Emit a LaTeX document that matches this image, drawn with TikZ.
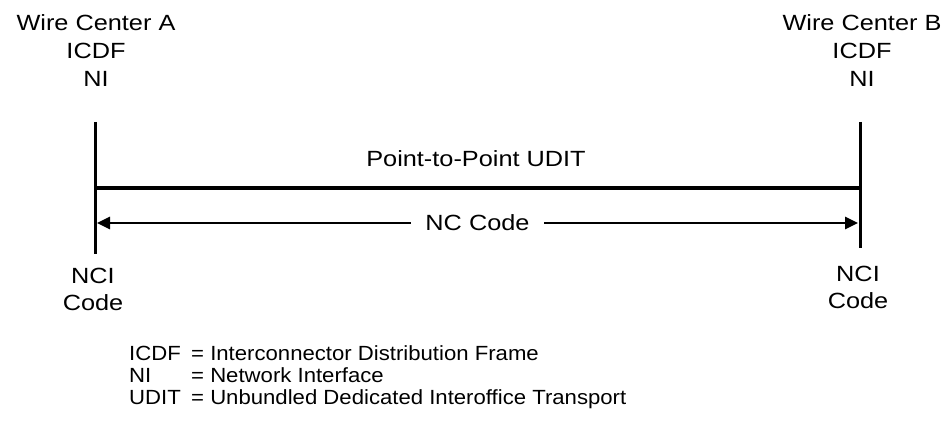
\documentclass[tikz,border=0pt]{standalone}
\usepackage{fontspec}
\setmainfont{Liberation Sans}
\newfontfamily\labelfont[FakeStretch=1.15]{Liberation Sans}
\newfontfamily\legendfont[FakeStretch=1.08]{Liberation Sans}
\usetikzlibrary{arrows.meta}

\begin{document}
\begin{tikzpicture}[x=1pt, y=-1pt]
    % Styles
    \tikzstyle{site} = [align=center, inner sep=0pt, font=\labelfont\fontsize{22}{28}\selectfont]
    \tikzstyle{endline} = [line width=3pt]
    \tikzstyle{udit} = [line width=4pt]
    \tikzstyle{span} = [{Triangle[length=13pt, width=12pt]}-{Triangle[length=13pt, width=12pt]}, line width=2.6pt]
    \tikzstyle{legend} = [anchor=base west, inner sep=0pt, font=\legendfont\fontsize{20.5}{22}\selectfont]

    \useasboundingbox (0,0) rectangle (948,427);

    % Wire centers
    \node[site] (WCA) at (96, 50.5) {Wire Center A\\ICDF\\NI};
    \node[site] (WCB) at (862, 50.5) {Wire Center B\\ICDF\\NI};
    \node[site, font=\labelfont\fontsize{22}{27}\selectfont] (NCIA) at (93, 289) {NCI\\Code};
    \node[site, font=\labelfont\fontsize{22}{27}\selectfont] (NCIB) at (858, 287) {NCI\\Code};

    % End points
    \coordinate (A1) at (95, 122);
    \coordinate (A2) at (95, 254);
    \coordinate (B1) at (860, 122);
    \coordinate (B2) at (860, 248);
    \coordinate (UA) at (95, 188);
    \coordinate (UB) at (860, 188);
    \coordinate (CA) at (97, 223);
    \coordinate (CB) at (858, 223);

    % Lines
    \draw[endline] (A1) -- (A2);
    \draw[endline] (B1) -- (B2);
    \draw[udit] (UA) -- (UB);
    \node[site] (UL) at (476, 159) {Point-to-Point UDIT};
    \draw[span] (CA) -- node[site, fill=white, inner xsep=14pt, inner ysep=2pt] (NC) {NC Code} (CB);

    % Legend
    \node[legend] (K1) at (129, 361) {ICDF};
    \node[legend] (K2) at (129, 383) {NI};
    \node[legend] (K3) at (129, 405) {UDIT};
    \node[legend] (D1) at (191, 361) {= Interconnector Distribution Frame};
    \node[legend] (D2) at (191, 383) {= Network Interface};
    \node[legend] (D3) at (191, 405) {= Unbundled Dedicated Interoffice Transport};
\end{tikzpicture}
\end{document}
